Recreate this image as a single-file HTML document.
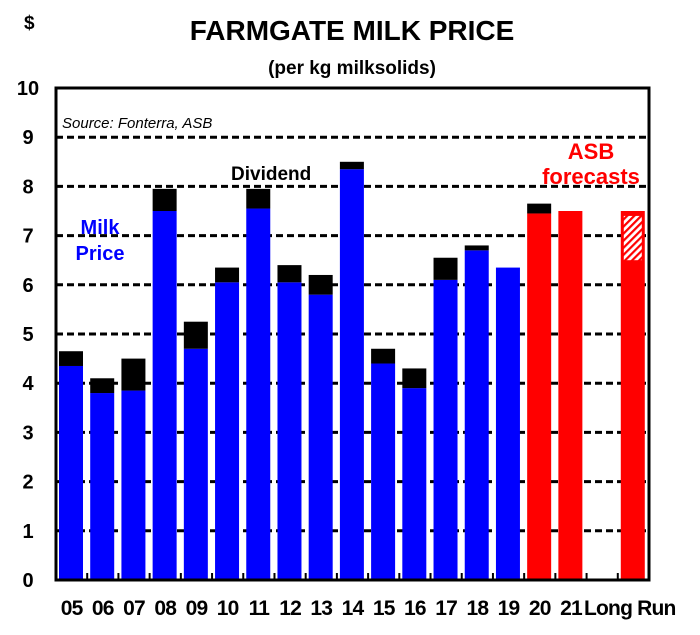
<!DOCTYPE html>
<html><head><meta charset="utf-8"><style>
html,body{margin:0;padding:0;background:#fff;}
svg text{font-family:"Liberation Sans",sans-serif;}
</style></head><body>
<svg id="chart" width="700" height="630" viewBox="0 0 700 630" xmlns="http://www.w3.org/2000/svg">
<defs>
<pattern id="hatch" patternUnits="userSpaceOnUse" width="5" height="5" patternTransform="rotate(45)">
<rect width="5" height="5" fill="#fff"/><rect width="2.2" height="5" fill="#f00"/>
</pattern>
</defs>
<text x="24" y="29" font-size="19" font-weight="bold">$</text>
<text x="352" y="40" font-size="28" font-weight="bold" text-anchor="middle">FARMGATE MILK PRICE</text>
<text x="352" y="74" font-size="19" font-weight="bold" text-anchor="middle">(per kg milksolids)</text>
<g id="grid"></g>
<g id="bars"></g>
<g id="axes"></g>
<text x="62" y="128" font-size="15" font-style="italic">Source: Fonterra, ASB</text>
<text x="231" y="180" font-size="19" font-weight="bold">Dividend</text>
<text x="100" y="234" font-size="20" font-weight="bold" fill="#00f" text-anchor="middle">Milk</text>
<text x="100" y="260" font-size="20" font-weight="bold" fill="#00f" text-anchor="middle">Price</text>
<text x="591" y="159" font-size="22" font-weight="bold" fill="#f00" text-anchor="middle">ASB</text>
<text x="591" y="184" font-size="22" font-weight="bold" fill="#f00" text-anchor="middle">forecasts</text>
</svg>
<script>
const categories = ["05","06","07","08","09","10","11","12","13","14","15","16","17","18","19","20","21","","Long Run"];
const milkPrice = [4.35,3.8,3.85,7.5,4.7,6.05,7.55,6.05,5.8,8.35,4.4,3.9,6.1,6.7,6.35,7.45,7.5,null,7.5];
const dividend = [0.3,0.3,0.65,0.45,0.55,0.3,0.4,0.35,0.4,0.15,0.3,0.4,0.45,0.1,0,0.2,0,null,0];
const isForecast = [0,0,0,0,0,0,0,0,0,0,0,0,0,0,0,1,1,0,1];
const rangeLow = [null,null,null,null,null,null,null,null,null,null,null,null,null,null,null,null,null,null,6.5];
const rangeHigh = [null,null,null,null,null,null,null,null,null,null,null,null,null,null,null,null,null,null,7.4];
const yTicks = [0,1,2,3,4,5,6,7,8,9,10];

const NS="http://www.w3.org/2000/svg";
const L=56,R=649,T=88,B=580;
const slot=(R-L)/categories.length;
const y=v=>B-(v/10)*(B-T);
const x=i=>L+i*slot;
function mk(tag,attrs,parent){const e=document.createElementNS(NS,tag);for(const k in attrs)e.setAttribute(k,attrs[k]);parent.appendChild(e);return e;}
const grid=document.getElementById('grid'),bars=document.getElementById('bars'),axes=document.getElementById('axes');

yTicks.forEach(t=>{
  if(t>0&&t<10){const g=mk('line',{x1:L,x2:R,y1:y(t),y2:y(t),stroke:'#000','stroke-width':3,'stroke-dasharray':'7,4'},grid);
  
  }
  const lb=mk('text',{x:28,y:y(t)+7,'font-size':20,'font-weight':'bold','text-anchor':'middle'},axes);
  lb.textContent=t;
  
  
});

categories.forEach((c,i)=>{
  if(milkPrice[i]==null)return;
  const bx=x(i)+3,bw=24;
  const col=isForecast[i]?'#f00':'#00f';
  const r=mk('rect',{x:bx,y:y(milkPrice[i]),width:bw,height:B-y(milkPrice[i]),fill:col},bars);
  
  
  if(dividend[i]>0){
    const d=mk('rect',{x:bx,y:y(milkPrice[i]+dividend[i]),width:bw,height:y(milkPrice[i])-y(milkPrice[i]+dividend[i]),fill:'#000'},bars);
    
    
  }
  if(rangeLow[i]!=null){
    const h=mk('rect',{x:bx+3,y:y(rangeHigh[i]),width:bw-6,height:y(rangeLow[i])-y(rangeHigh[i]),fill:'url(#hatch)'},bars);
    
    
  }
});

for(let i=1;i<categories.length;i++){
  const tk=mk('line',{x1:x(i),x2:x(i),y1:B,y2:B-7,stroke:'#000','stroke-width':2},axes);
  
  
}
const frame=mk('rect',{x:L,y:T,width:R-L,height:B-T,fill:'none',stroke:'#000','stroke-width':3},axes);



categories.forEach((c,i)=>{
  if(!c)return;
  let cx=x(i)+slot/2, anchor='middle';
  if(c==="Long Run"){cx=584;anchor='start';}
  const t=mk('text',{x:cx,y:615,'font-size':21,'font-weight':'bold','text-anchor':anchor,'letter-spacing':'-0.8'},axes);
  t.textContent=c;
  
  
});
</script>
</body></html>
